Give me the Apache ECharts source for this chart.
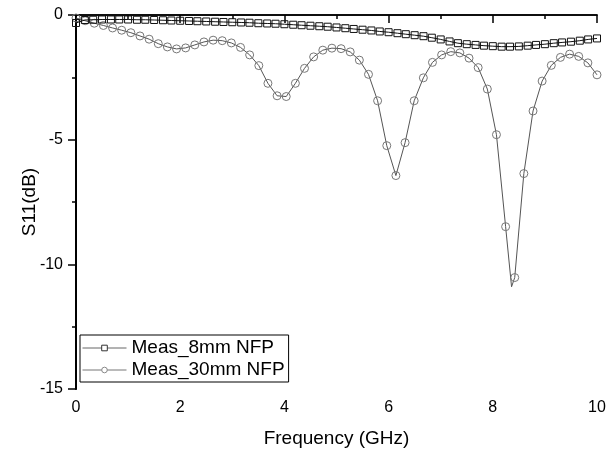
<!DOCTYPE html>
<html><head><meta charset="utf-8">
<script src="https://cdn.jsdelivr.net/npm/echarts@6/dist/echarts.min.js"></script>
<style>html,body{margin:0;padding:0;background:#fff}#c{width:614px;height:453px}</style>
</head><body><div id="c"></div>
<script>
const seriesNames = ['Meas_8mm NFP', 'Meas_30mm NFP'];
const freq8 = [0, 0.17, 0.33, 0.5, 0.67, 0.83, 1, 1.17, 1.33, 1.5, 1.67, 1.83, 2, 2.17, 2.33, 2.5, 2.67, 2.83, 3, 3.17, 3.33, 3.5, 3.67, 3.83, 4, 4.17, 4.33, 4.5, 4.67, 4.83, 5, 5.17, 5.33, 5.5, 5.67, 5.83, 6, 6.17, 6.33, 6.5, 6.67, 6.83, 7, 7.17, 7.33, 7.5, 7.67, 7.83, 8, 8.17, 8.33, 8.5, 8.67, 8.83, 9, 9.17, 9.33, 9.5, 9.67, 9.83, 10];
const s11_8 = [-0.32, -0.2, -0.19, -0.18, -0.18, -0.18, -0.18, -0.19, -0.19, -0.2, -0.21, -0.22, -0.23, -0.24, -0.25, -0.26, -0.27, -0.28, -0.29, -0.3, -0.31, -0.33, -0.34, -0.35, -0.37, -0.39, -0.41, -0.43, -0.45, -0.47, -0.5, -0.53, -0.56, -0.59, -0.62, -0.66, -0.69, -0.73, -0.77, -0.81, -0.85, -0.91, -0.98, -1.06, -1.13, -1.17, -1.2, -1.23, -1.25, -1.27, -1.27, -1.26, -1.23, -1.2, -1.17, -1.13, -1.1, -1.07, -1.03, -0.98, -0.94];
const freq30 = [0, 0.175, 0.351, 0.526, 0.702, 0.877, 1.053, 1.228, 1.404, 1.579, 1.754, 1.93, 2.105, 2.281, 2.456, 2.632, 2.807, 2.982, 3.158, 3.333, 3.509, 3.684, 3.86, 4.035, 4.211, 4.386, 4.561, 4.737, 4.912, 5.088, 5.263, 5.439, 5.614, 5.789, 5.965, 6.14, 6.316, 6.491, 6.667, 6.842, 7.018, 7.193, 7.368, 7.544, 7.719, 7.895, 8.07, 8.246, 8.421, 8.596, 8.772, 8.947, 9.123, 9.298, 9.474, 9.649, 9.825, 10];
const s11_30 = [-0.12, -0.23, -0.33, -0.42, -0.52, -0.61, -0.71, -0.84, -0.97, -1.15, -1.28, -1.36, -1.32, -1.2, -1.08, -1.01, -1.03, -1.12, -1.3, -1.6, -2.03, -2.74, -3.24, -3.27, -2.74, -2.14, -1.68, -1.41, -1.33, -1.35, -1.48, -1.81, -2.38, -3.44, -5.24, -6.44, -5.12, -3.44, -2.52, -1.9, -1.6, -1.47, -1.52, -1.73, -2.11, -2.97, -4.8, -8.49, -10.53, -6.36, -3.85, -2.65, -2.02, -1.7, -1.57, -1.66, -1.92, -2.4];
// line-only points (curve passes below the markers at the deepest dip)
const freq30Line = [8.36];
const s11_30Line = [-10.9];
const xTicks = {min: 0, max: 10, interval: 2};
const yTicks = {min: -15, max: 0, interval: 5};

const data8 = freq8.map((f, i) => [f, s11_8[i]]);
const data30 = freq30.map((f, i) => [f, s11_30[i]]);
freq30Line.forEach((f, i) => data30.push({value: [f, s11_30Line[i]], symbol: 'none'}));
data30.sort((a, b) => (a.value ? a.value[0] : a[0]) - (b.value ? b.value[0] : b[0]));

const font = 'Liberation Sans, Arial, sans-serif';
const chart = echarts.init(document.getElementById('c'));
chart.setOption({
  backgroundColor: '#fff',
  animation: false,
  grid: {left: 76, right: 17, top: 15, bottom: 63},
  legend: {
    orient: 'vertical', left: 80, top: 335,
    padding: [3, 4, 2, 2], itemGap: 2,
    itemWidth: 44, itemHeight: 7,
    borderColor: '#000', borderWidth: 1, backgroundColor: '#fff',
    textStyle: {fontFamily: font, fontSize: 19, color: '#000', lineHeight: 20},
    data: [
      {name: seriesNames[0], itemStyle: {color: '#fff', borderColor: '#333', borderWidth: 1}, lineStyle: {color: '#666', width: 1}},
      {name: seriesNames[1], itemStyle: {color: '#fff', borderColor: '#888', borderWidth: 1}, lineStyle: {color: '#777', width: 1}}
    ]
  },
  xAxis: [{
    type: 'value', position: 'bottom', min: xTicks.min, max: xTicks.max, interval: xTicks.interval,
    name: 'Frequency (GHz)', nameLocation: 'middle', nameGap: 40, nameMoveOverlap: false,
    nameTextStyle: {fontFamily: font, fontSize: 19, color: '#000'},
    axisLine: {lineStyle: {color: '#000', width: 1.5}},
    axisTick: {inside: false, length: 7, lineStyle: {color: '#000', width: 1.5}},
    minorTick: {show: true, splitNumber: 2, length: 4, lineStyle: {color: '#000', width: 1.5}},
    axisLabel: {fontFamily: font, fontSize: 16, color: '#000', margin: 11},
    splitLine: {show: false}
  }, {
    type: 'value', position: 'top', min: xTicks.min, max: xTicks.max, interval: xTicks.interval,
    axisLine: {lineStyle: {color: '#000', width: 1.5}},
    axisTick: {inside: true, length: 8, lineStyle: {color: '#000', width: 1.5}},
    minorTick: {show: true, splitNumber: 2, length: 4, lineStyle: {color: '#000', width: 1.5}},
    axisLabel: {show: false}, splitLine: {show: false}
  }],
  yAxis: [{
    type: 'value', position: 'left', min: yTicks.min, max: yTicks.max, interval: yTicks.interval,
    name: 'S11(dB)', nameLocation: 'middle', nameGap: 37, nameMoveOverlap: false,
    nameTextStyle: {fontFamily: font, fontSize: 19, color: '#000'},
    axisLine: {lineStyle: {color: '#000', width: 2}},
    axisTick: {inside: false, length: 8, lineStyle: {color: '#000', width: 1.5}},
    minorTick: {show: true, splitNumber: 2, length: 4, lineStyle: {color: '#000', width: 1.5}},
    axisLabel: {fontFamily: font, fontSize: 16, color: '#000', margin: 13},
    splitLine: {show: false}
  }, {
    type: 'value', position: 'right', min: yTicks.min, max: yTicks.max, interval: yTicks.interval,
    axisLine: {lineStyle: {color: '#000', width: 1.5}},
    axisTick: {inside: true, length: 8, lineStyle: {color: '#000', width: 1.5}},
    minorTick: {show: true, splitNumber: 2, length: 4, lineStyle: {color: '#000', width: 1.5}},
    axisLabel: {show: false}, splitLine: {show: false}
  }],
  series: [{
    name: seriesNames[0], type: 'line', xAxisIndex: 0, yAxisIndex: 0,
    data: data8, symbol: 'rect', symbolSize: 7, showAllSymbol: true,
    lineStyle: {color: '#111', width: 1},
    itemStyle: {color: 'rgba(255,255,255,0)', borderColor: '#111', borderWidth: 1},
    z: 3
  }, {
    name: seriesNames[1], type: 'line', xAxisIndex: 0, yAxisIndex: 0,
    data: data30, symbol: 'circle', symbolSize: 8, showAllSymbol: true,
    lineStyle: {color: '#555', width: 1},
    itemStyle: {color: 'rgba(255,255,255,0)', borderColor: '#777', borderWidth: 1},
    z: 2
  }]
});
</script></body></html>
